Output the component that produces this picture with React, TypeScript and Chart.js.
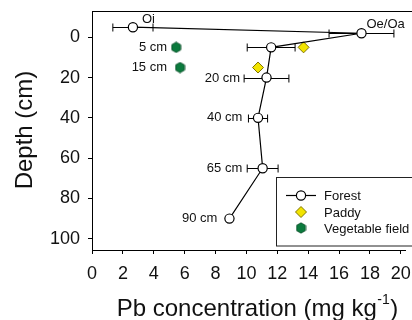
import React, { useEffect, useRef } from 'react';
import { Chart, registerables } from 'chart.js';
Chart.register(...registerables);

const FONT = '"Liberation Sans", Arial, sans-serif';

// Forest profile (Pb mg/kg vs depth cm), with horizontal SE bars
const pbForest = [2.65, 17.45, 11.6, 11.3, 10.75, 11.05, 8.9];
const depthForest = [-5, -2, 5, 20, 40, 65, 90];
const errForest = [1.3, 2.1, 1.55, 1.45, 0.62, 1.0, 0];
const forestLabels = ['Oi', 'Oe/Oa', '', '20 cm', '40 cm', '65 cm', '90 cm'];

// Paddy
const pbPaddy = [13.7, 10.75];
const depthPaddy = [5, 15];

// Vegetable field
const pbVeg = [5.45, 5.7];
const depthVeg = [5, 15];
const vegLabels = ['5 cm', '15 cm'];

const xTicks = [0, 2, 4, 6, 8, 10, 12, 14, 16, 18, 20];
const yTicks = [0, 20, 40, 60, 80, 100];

// label placement styles (pixel offsets relative to point / error bar)
const forestLabelStyle = [
  { align: 'left', dx: 9, dy: -4.5, from: 'point', base: 'alphabetic' },
  { align: 'left', dx: 5, dy: -5, from: 'point', base: 'alphabetic' },
  { align: 'right', dx: -4, dy: 0, from: 'err', base: 'middle' },
  { align: 'right', dx: -4, dy: 1, from: 'err', base: 'middle' },
  { align: 'right', dx: -6, dy: 0, from: 'err', base: 'middle' },
  { align: 'right', dx: -5, dy: 0, from: 'err', base: 'middle' },
  { align: 'right', dx: -12, dy: 0, from: 'point', base: 'middle' },
];
const vegLabelStyle = [
  { dx: -9, dy: 0 },
  { dx: -13, dy: 0 },
];

function makeHex(): HTMLCanvasElement {
  const c = document.createElement('canvas');
  c.width = 11;
  c.height = 12;
  const ctx = c.getContext('2d')!;
  const cx = 5.5, cy = 6, r = 5.2;
  ctx.beginPath();
  for (let i = 0; i < 6; i++) {
    const a = -Math.PI / 2 + (i * Math.PI) / 3;
    const px = cx + r * Math.cos(a);
    const py = cy + r * Math.sin(a);
    if (i === 0) ctx.moveTo(px, py);
    else ctx.lineTo(px, py);
  }
  ctx.closePath();
  ctx.fillStyle = '#0b7a3d';
  ctx.fill();
  ctx.lineWidth = 0.8;
  ctx.strokeStyle = '#064a24';
  ctx.stroke();
  return c;
}

export default function App() {
  const ref = useRef<HTMLCanvasElement>(null);

  useEffect(() => {
    const hex = makeHex();

    const decor = {
      id: 'decor',
      beforeDatasetsDraw(chart: any) {
        const { ctx, scales } = chart;
        const xs = scales.x, ys = scales.y;
        ctx.save();
        ctx.strokeStyle = '#000';
        ctx.lineWidth = 1;
        pbForest.forEach((v, i) => {
          const e = errForest[i];
          if (!e) return;
          const y = Math.round(ys.getPixelForValue(depthForest[i])) + 0.5;
          const x1 = xs.getPixelForValue(v - e);
          const x2 = xs.getPixelForValue(v + e);
          ctx.beginPath();
          ctx.moveTo(x1, y);
          ctx.lineTo(x2, y);
          ctx.moveTo(x1, y - 4);
          ctx.lineTo(x1, y + 4);
          ctx.moveTo(x2, y - 4);
          ctx.lineTo(x2, y + 4);
          ctx.stroke();
        });
        ctx.restore();
      },
      afterDraw(chart: any) {
        const { ctx, scales, chartArea } = chart;
        const xs = scales.x, ys = scales.y;
        ctx.save();
        // top frame line
        ctx.strokeStyle = '#000';
        ctx.lineWidth = 1;
        ctx.beginPath();
        ctx.moveTo(chartArea.left, chartArea.top + 0.5);
        ctx.lineTo(412, chartArea.top + 0.5);
        ctx.stroke();

        // point labels
        ctx.fillStyle = '#111';
        ctx.font = `13px ${FONT}`;
        forestLabels.forEach((t, i) => {
          if (!t) return;
          const st = forestLabelStyle[i];
          const px = st.from === 'err'
            ? xs.getPixelForValue(pbForest[i] - errForest[i])
            : xs.getPixelForValue(pbForest[i]);
          const py = ys.getPixelForValue(depthForest[i]);
          ctx.textAlign = st.align as CanvasTextAlign;
          ctx.textBaseline = st.base as CanvasTextBaseline;
          ctx.fillText(t, px + st.dx, py + st.dy);
        });
        vegLabels.forEach((t, i) => {
          const st = vegLabelStyle[i];
          ctx.textAlign = 'right';
          ctx.textBaseline = 'middle';
          ctx.fillText(t, xs.getPixelForValue(pbVeg[i]) + st.dx, ys.getPixelForValue(depthVeg[i]) + st.dy);
        });

        // legend
        const ds = chart.data.datasets;
        ctx.strokeStyle = '#222';
        ctx.lineWidth = 1;
        ctx.strokeRect(276.5, 177.5, 220, 68.5);
        const rows = [195, 212, 228];
        const sx = 301;
        ctx.font = `13px ${FONT}`;
        ctx.textAlign = 'left';
        ctx.textBaseline = 'middle';
        // Forest
        ctx.beginPath();
        ctx.strokeStyle = '#000';
        ctx.lineWidth = 1.2;
        ctx.moveTo(286, rows[0] + 0.5);
        ctx.lineTo(316, rows[0] + 0.5);
        ctx.stroke();
        ctx.beginPath();
        ctx.arc(sx, rows[0] + 0.5, 4.6, 0, Math.PI * 2);
        ctx.fillStyle = '#fff';
        ctx.fill();
        ctx.stroke();
        // Paddy
        ctx.beginPath();
        ctx.moveTo(sx, rows[1] - 5.5);
        ctx.lineTo(sx + 5.5, rows[1]);
        ctx.lineTo(sx, rows[1] + 5.5);
        ctx.lineTo(sx - 5.5, rows[1]);
        ctx.closePath();
        ctx.fillStyle = ds[1].pointBackgroundColor;
        ctx.fill();
        ctx.lineWidth = 1;
        ctx.strokeStyle = ds[1].pointBorderColor;
        ctx.stroke();
        // Veg
        ctx.drawImage(hex, sx - hex.width / 2, rows[2] - hex.height / 2);
        ctx.fillStyle = '#111';
        ds.forEach((d: any, i: number) => {
          ctx.fillText(d.label, 324, rows[i] + 1);
        });

        // axis titles
        ctx.fillStyle = '#111';
        ctx.textBaseline = 'alphabetic';
        const main1 = 'Pb concentration (mg kg';
        const sup = '-1';
        const main2 = ')';
        ctx.font = `24px ${FONT}`;
        const w1 = ctx.measureText(main1).width;
        const w3 = ctx.measureText(main2).width;
        ctx.font = `14px ${FONT}`;
        const w2 = ctx.measureText(sup).width;
        const total = w1 + w2 + w3 + 1;
        let x0 = 257.5 - total / 2;
        const base = 315.5;
        ctx.textAlign = 'left';
        ctx.font = `24px ${FONT}`;
        ctx.fillText(main1, x0, base);
        ctx.font = `14px ${FONT}`;
        ctx.fillText(sup, x0 + w1 + 0.5, base - 12);
        ctx.font = `24px ${FONT}`;
        ctx.fillText(main2, x0 + w1 + w2 + 1, base);

        ctx.save();
        ctx.translate(32, 130);
        ctx.rotate(-Math.PI / 2);
        ctx.textAlign = 'center';
        ctx.fillText('Depth (cm)', 0, 0);
        ctx.restore();

        ctx.restore();
      },
    };

    const chart = new Chart(ref.current!, {
      type: 'scatter',
      data: {
        datasets: [
          {
            label: 'Forest',
            data: pbForest.map((x, i) => ({ x, y: depthForest[i] })),
            showLine: true,
            borderColor: '#000',
            borderWidth: 1.2,
            pointRadius: 4.6,
            pointBackgroundColor: '#fff',
            pointBorderColor: '#000',
            pointBorderWidth: 1.2,
            tension: 0,
          },
          {
            label: 'Paddy',
            data: pbPaddy.map((x, i) => ({ x, y: depthPaddy[i] })),
            pointStyle: 'rectRot',
            pointRadius: 5.5,
            pointBackgroundColor: '#f2e400',
            pointBorderColor: '#807400',
            pointBorderWidth: 1,
          },
          {
            label: 'Vegetable field',
            data: pbVeg.map((x, i) => ({ x, y: depthVeg[i] })),
            pointStyle: hex as any,
            pointRadius: 5,
          },
        ] as any,
      },
      options: {
        responsive: false,
        animation: false,
        layout: { padding: { top: 11, left: 0, right: 0, bottom: 0 } },
        plugins: { legend: { display: false }, tooltip: { enabled: false } },
        scales: {
          x: {
            type: 'linear',
            min: 0,
            max: 20.3,
            afterBuildTicks: (s: any) => {
              s.ticks = xTicks.map((v) => ({ value: v }));
            },
            afterFit: (s: any) => {
              s.height = 70;
              s.paddingLeft = 0;
              s.paddingRight = 0;
            },
            grid: { drawOnChartArea: false, drawTicks: true, tickLength: 4, color: '#000' },
            border: { color: '#000', width: 1 },
            ticks: {
              font: { family: FONT, size: 18 },
              color: '#111',
              padding: 9,
              maxRotation: 0,
              autoSkip: false,
            },
          },
          y: {
            type: 'linear',
            reverse: true,
            min: -13.05,
            max: 105.6,
            afterBuildTicks: (s: any) => {
              s.ticks = yTicks.map((v) => ({ value: v }));
            },
            afterFit: (s: any) => {
              s.width = 92;
              s.paddingTop = 0;
              s.paddingBottom = 0;
            },
            grid: { drawOnChartArea: false, drawTicks: true, tickLength: 4, color: '#000' },
            border: { color: '#000', width: 1 },
            ticks: {
              font: { family: FONT, size: 18 },
              color: '#111',
              padding: 8,
              autoSkip: false,
            },
          },
        },
      } as any,
      plugins: [decor],
    });
    return () => chart.destroy();
  }, []);

  return (
    <div style={{ position: 'fixed', left: 0, top: 0, width: 412, height: 320 }}>
      <canvas ref={ref} width={412} height={320} style={{ display: 'block', width: 412, height: 320 }} />
    </div>
  );
}
